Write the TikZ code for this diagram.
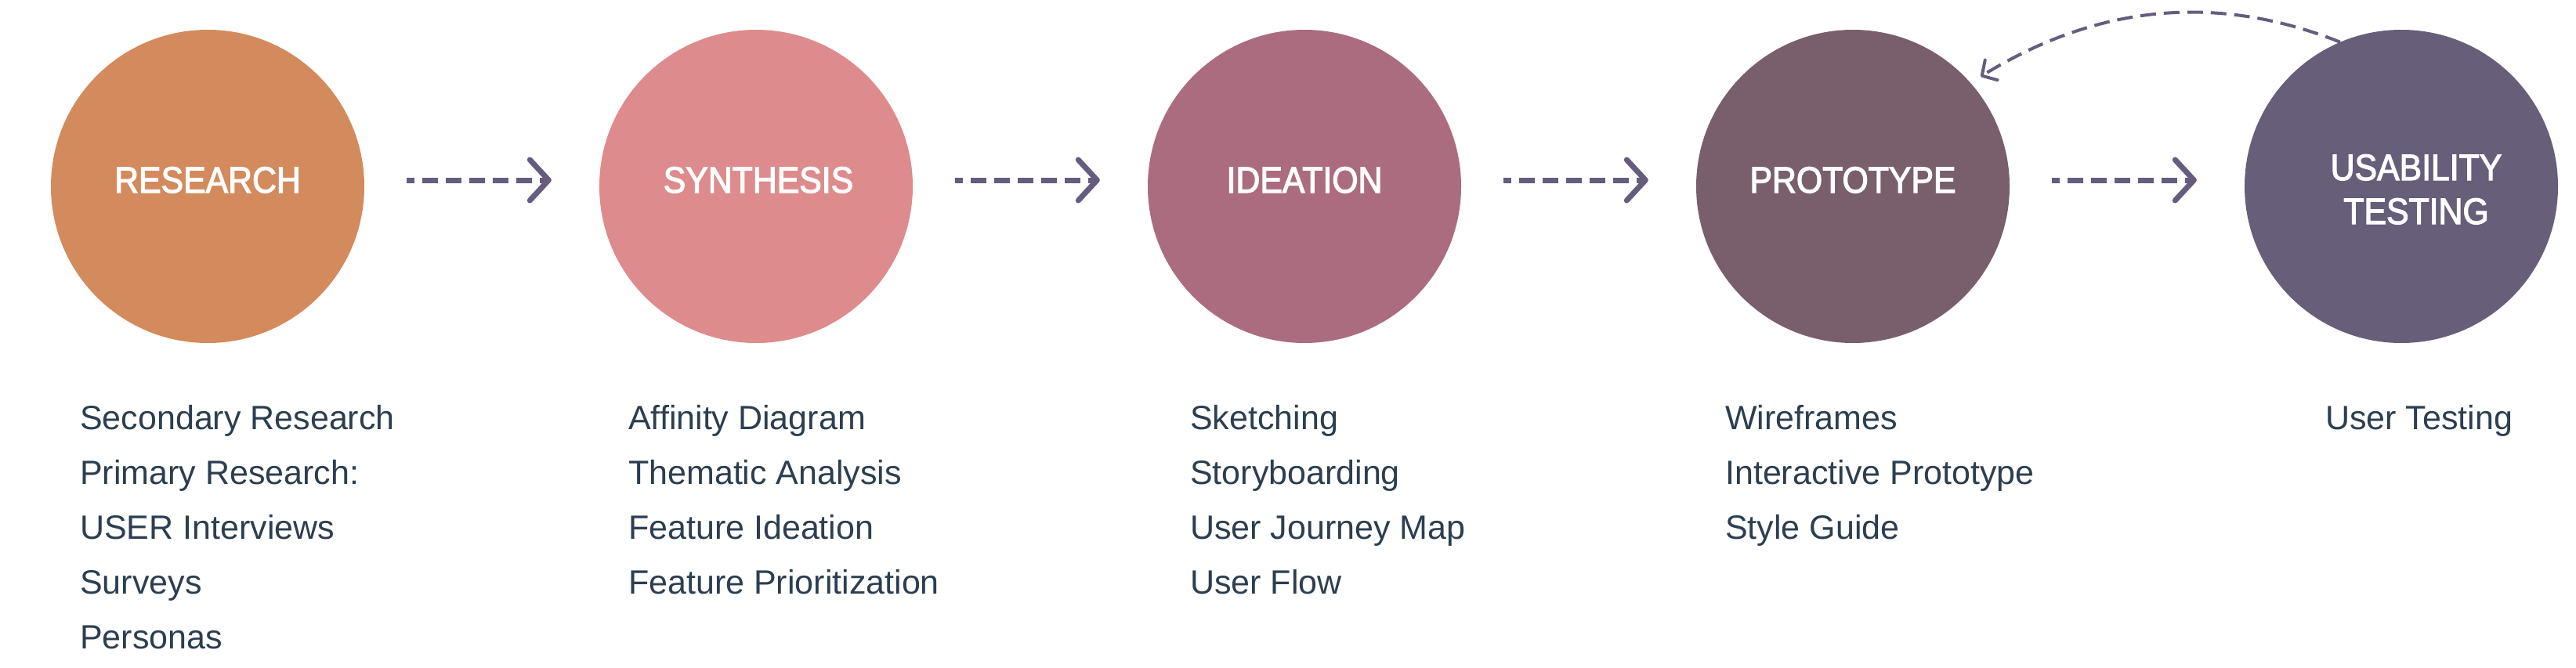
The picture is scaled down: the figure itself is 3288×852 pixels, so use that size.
\documentclass[tikz,border=0pt]{standalone}
\usepackage{fontspec}
\setmainfont{Liberation Sans}
\newfontfamily\headfont{Liberation Sans}[FakeStretch=0.91,FakeBold=2.5]
\usetikzlibrary{arrows.meta,calc}
\definecolor{cResearch}{HTML}{D38A5C}
\definecolor{cSynthesis}{HTML}{DE8B8D}
\definecolor{cIdeation}{HTML}{AB6C7F}
\definecolor{cPrototype}{HTML}{785F6B}
\definecolor{cUsability}{HTML}{675E7A}
\definecolor{cText}{HTML}{2C3E50}
\definecolor{cArrow}{HTML}{665C7D}
\begin{document}
\begin{tikzpicture}[x=1pt,y=-1pt,
  stage/.style={circle,minimum size=400pt,inner sep=0pt,draw=none},
  head/.style={anchor=base,inner sep=0pt,text=white,align=center,
    font=\headfont\fontsize{47}{56}\selectfont},
  item/.style={anchor=base west,inner sep=0pt,text=cText,
    font=\fontsize{43}{52}\selectfont},
  flow/.style={draw=cArrow,line width=7pt,dash pattern=on 20pt off 10pt,dash phase=10pt,
    -{Straight Barb[length=24pt,width=52pt,round]}},
  backflow/.style={draw=cArrow,line width=4pt,dash pattern=on 20pt off 10pt,
    -{Straight Barb[length=14pt,width=30pt,round]}}]
\useasboundingbox (0,0) rectangle (3288,852);
\fill[white] (0,0) rectangle (3288,852);

\node[stage,fill=cResearch] (research) at (265,238) {};
\node[stage,fill=cSynthesis] (synthesis) at (965,238) {};
\node[stage,fill=cIdeation] (ideation) at (1665,238) {};
\node[stage,fill=cPrototype] (prototype) at (2365,238) {};
\node[stage,fill=cUsability] (usability) at (3065,238) {};

\node[head] (researchT) at (265,246) {RESEARCH};
\node[head] (synthesisT) at (968,246) {SYNTHESIS};
\node[head] (ideationT) at (1665,246) {IDEATION};
\node[head] (prototypeT) at (2365,246) {PROTOTYPE};
\node[head,anchor=north] (usabilityT) at (3084,197) {USABILITY\\TESTING};

\draw[flow] ([xshift=54pt,yshift=8pt]research.east) -- ([xshift=-61pt,yshift=8pt]synthesis.west);
\draw[flow] ([xshift=54pt,yshift=8pt]synthesis.east) -- ([xshift=-61pt,yshift=8pt]ideation.west);
\draw[flow] ([xshift=54pt,yshift=8pt]ideation.east) -- ([xshift=-61pt,yshift=8pt]prototype.west);
\draw[flow] ([xshift=54pt,yshift=8pt]prototype.east) -- ([xshift=-61pt,yshift=8pt]usability.west);

\coordinate (loopend) at ($(prototype.center)+(40.7:215pt)$);
\draw[backflow] (usability.113) .. controls (2829,-9) and (2677,6) .. (loopend);

\node[item] (r1) at (102,548) {Secondary Research};
\node[item] (r2) at (102,618) {Primary Research:};
\node[item] (r3) at (102,688) {USER Interviews};
\node[item] (r4) at (102,758) {Surveys};
\node[item] (r5) at (102,828) {Personas};

\node[item] (s1) at (802,548) {Affinity Diagram};
\node[item] (s2) at (802,618) {Thematic Analysis};
\node[item] (s3) at (802,688) {Feature Ideation};
\node[item] (s4) at (802,758) {Feature Prioritization};

\node[item] (i1) at (1519,548) {Sketching};
\node[item] (i2) at (1519,618) {Storyboarding};
\node[item] (i3) at (1519,688) {User Journey Map};
\node[item] (i4) at (1519,758) {User Flow};

\node[item] (p1) at (2202,548) {Wireframes};
\node[item] (p2) at (2202,618) {Interactive Prototype};
\node[item] (p3) at (2202,688) {Style Guide};

\node[item] (u1) at (2968,548) {User Testing};
\end{tikzpicture}
\end{document}
